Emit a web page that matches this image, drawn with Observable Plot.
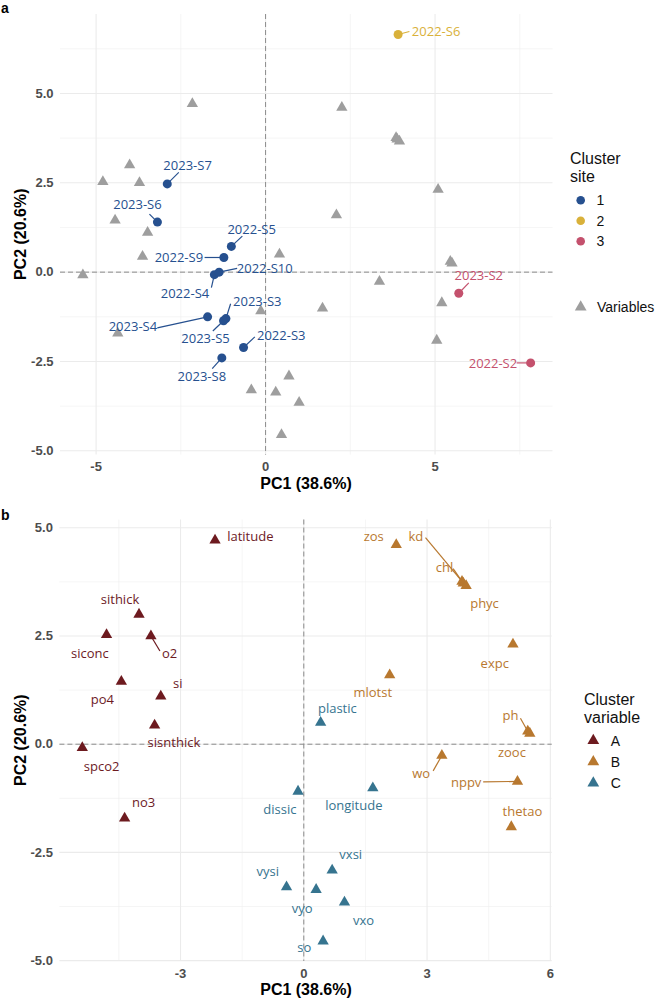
<!DOCTYPE html>
<html>
<head>
<meta charset="utf-8">
<script src="https://cdn.jsdelivr.net/npm/d3@7"></script>
<script src="https://cdn.jsdelivr.net/npm/@observablehq/plot@0.6"></script>
<style>
  body { margin: 0; background: #fff; }
  #fig { position: relative; width: 656px; height: 1000px; font-family: "Liberation Sans", Arial, sans-serif; }
  #fig > svg { position: absolute; left: 0; }
</style>
</head>
<body>
<div id="fig"></div>
<script>
// ---- Site scores on the first two principal components
const siteNames   = ["2022-S2","2022-S3","2022-S4","2022-S5","2022-S6","2022-S9","2022-S10","2023-S2","2023-S3","2023-S4","2023-S5","2023-S6","2023-S7","2023-S8"];
const siteCluster = ["3","1","1","1","2","1","1","3","1","1","1","1","1","1"];
const sitePC1     = [7.82,-0.65,-1.51,-1.01,3.91,-1.23,-1.37,5.70,-1.17,-1.71,-1.24,-3.19,-2.90,-1.29];
const sitePC2     = [-2.54,-2.11,-0.07,0.72,6.65,0.41,0.00,-0.59,-1.30,-1.25,-1.36,1.40,2.47,-2.40];

// ---- Environmental variables (loadings) and their clusters
const varNames   = ["latitude","sithick","siconc","o2","po4","si","sisnthick","spco2","no3",
                    "zos","kd","chl","phyc","expc","mlotst","ph","zooc","wo","nppv","thetao",
                    "plastic","dissic","longitude","vysi","vyo","vxsi","vxo","so"];
const varCluster = ["A","A","A","A","A","A","A","A","A",
                    "B","B","B","B","B","B","B","B","B","B","B",
                    "C","C","C","C","C","C","C","C"];
const varPC1     = [-2.16,-4.01,-4.80,-3.72,-4.44,-3.48,-3.63,-5.39,-4.36,
                    2.25,3.85,3.88,3.95,5.09,2.09,5.45,5.50,3.36,5.20,5.05,
                    0.41,-0.14,1.68,-0.42,0.30,0.69,0.99,0.47];
const varPC2     = [4.71,3.00,2.53,2.50,1.45,1.11,0.44,-0.08,-1.71,
                    4.61,3.76,3.72,3.66,2.31,1.60,0.30,0.25,-0.26,-0.86,-1.91,
                    0.50,-1.09,-1.01,-3.30,-3.36,-2.91,-3.65,-4.55];

// ---- Categories, colours and tick values
const siteClusters = ["1","2","3"];
const siteColors   = ["#26508f","#d9b13a","#c4516d"];
const varClusters  = ["A","B","C"];
const varColors    = ["#6d1a1f","#b8782f","#36748f"];
const axisTitleX = "PC1 (38.6%)";
const axisTitleY = "PC2 (20.6%)";
const ticksXa = [-5, 0, 5],        minorXa = [-2.5, 2.5, 7.5];
const ticksXb = [-3, 0, 3, 6],     minorXb = [-4.5, -1.5, 1.5, 4.5];
const ticksY  = [-5, -2.5, 0, 2.5, 5];
const minorYa = [-3.75, -1.25, 1.25, 3.75, 6.25];
const minorYb = [-3.75, -1.25, 1.25, 3.75];

// ---- Repelled label placement: text-centre offset and segment end, in pixels from the point
const siteLabelLayout = {
  "2022-S2":  [-37.7,   0.7, -14,    0],
  "2022-S3":  [ 37.7, -12,    11.3, -10.7],
  "2022-S4":  [-29.4,  19,    -3,    13],
  "2022-S5":  [ 20.3, -16.6,  11,   -10.3],
  "2022-S6":  [ 38,    -2.3,  11.3,  -3],
  "2022-S9":  [-45,     0.4, -19.3,   0],
  "2022-S10": [ 45.6,  -3.7,  18,    -3.7],
  "2023-S2":  [ 20,   -17,    10,   -10.3],
  "2023-S3":  [ 31.4, -16.5,   4.7, -14.8],
  "2023-S4":  [-74.7,  10.3, -50.3,  11],
  "2023-S5":  [-18,    18.3, -10.7,  10.3],
  "2023-S6":  [-20,   -17,    -8,    -8],
  "2023-S7":  [ 20.3, -17.7,  11.5, -11.5],
  "2023-S8":  [-20,    18.7,  -9.6,  10.7]
};
const varLabelLayout = {
  latitude:  [ 35.3,  -4],
  sithick:   [-19,   -14.7],
  siconc:    [-16.7,  19],
  o2:        [ 18.7,  18.3,   9,    15],
  po4:       [-19,    18.7],
  si:        [ 17,   -12.7],
  sisnthick: [ 19.3,  18],
  spco2:     [ 19.3,  18.9],
  no3:       [ 19,   -15],
  zos:       [-22.5,  -7.5],
  kd:        [-46.2, -44.4, -36.5, -43.8],
  chl:       [-18.8, -15.6, -10.1, -14.6],
  phyc:      [ 18.4,  17.8],
  expc:      [-18.2,  19.3],
  mlotst:    [-16.9,  17.4],
  ph:        [-17.3, -15.3,  -7.3, -13],
  zooc:      [-17.9,  19.5],
  wo:        [-20.7,  18.7,  -8.7,  15.4],
  nppv:      [-51.3,   1.1, -34.3,   0.4],
  thetao:    [ 11.1, -15.2],
  plastic:   [ 16.7, -13.4],
  dissic:    [-18.2,  18.4],
  longitude: [-19,    17.6],
  vysi:      [-18.7, -14.8],
  vyo:       [-13.9,  18.9],
  vxsi:      [ 18.6, -15.3],
  vxo:       [ 19,    18.6],
  so:        [-18.9,   6.8]
};

const W = 656;
const sites = siteNames.map((name, i) => ({name, cluster: siteCluster[i], pc1: sitePC1[i], pc2: sitePC2[i]}));
const vars  = varNames.map((name, i) => ({name, cluster: varCluster[i], pc1: varPC1[i], pc2: varPC2[i]}));

// Convert pixel offsets into data units for a panel's linear scales
function placeLabels(rows, layout, kx, ky) {
  return rows.map(d => {
    const [dx, dy, sx, sy] = layout[d.name];
    return {
      ...d,
      lx: d.pc1 + dx / kx, ly: d.pc2 - dy / ky,
      sx: sx == null ? null : d.pc1 + sx / kx,
      sy: sy == null ? null : d.pc2 - sy / ky
    };
  });
}

function backdrop(xMajor, xMinor, yMajor, yMinor) {
  return [
    Plot.ruleX(xMinor, {stroke: "#efefef", strokeWidth: 0.6}),
    Plot.ruleY(yMinor, {stroke: "#efefef", strokeWidth: 0.6}),
    Plot.ruleX(xMajor, {stroke: "#ebebeb", strokeWidth: 1.1}),
    Plot.ruleY(yMajor, {stroke: "#ebebeb", strokeWidth: 1.1}),
    Plot.ruleX([0], {stroke: "#8c8c8c", strokeWidth: 1, strokeDasharray: "5,3"}),
    Plot.ruleY([0], {stroke: "#8c8c8c", strokeWidth: 1, strokeDasharray: "5,3"})
  ];
}

function axes(xTicks) {
  const common = {tickSize: 0, tickPadding: 7, fontSize: 13, fontWeight: "bold", color: "#4d4d4d", label: null};
  return [
    Plot.axisX({...common, ticks: xTicks, tickFormat: d => String(d)}),
    Plot.axisY({...common, ticks: ticksY, tickFormat: d => d.toFixed(1)})
  ];
}

const labelFont = {fontFamily: "'Open Sans', 'Noto Sans', sans-serif", fontSize: 13, lineAnchor: "middle", textAnchor: "middle"};

// ---------------- Panel a: sites with variables in grey
{
  const m = {top: 14, right: 103.5, bottom: 45.4, left: 60}, H = 500;
  const xd = [-6.05, 8.48], yd = [-5.12, 7.21];
  const kx = (W - m.left - m.right) / (xd[1] - xd[0]);
  const ky = (H - m.top - m.bottom) / (yd[1] - yd[0]);
  const rows = placeLabels(sites, siteLabelLayout, kx, ky);
  const chart = Plot.plot({
    width: W, height: H,
    marginTop: m.top, marginRight: m.right, marginBottom: m.bottom, marginLeft: m.left,
    style: {fontFamily: "'Liberation Sans', Arial, sans-serif", background: "transparent", overflow: "visible"},
    x: {domain: xd}, y: {domain: yd},
    color: {domain: siteClusters, range: siteColors},
    marks: [
      ...backdrop(ticksXa, minorXa, ticksY, minorYa),
      Plot.dot(vars, {x: "pc1", y: "pc2", symbol: "triangle", r: 4.2, fill: "#9e9e9e"}),
      Plot.link(rows.filter(d => d.sx != null), {x1: "pc1", y1: "pc2", x2: "sx", y2: "sy", stroke: "cluster", strokeWidth: 1.2}),
      Plot.dot(rows, {x: "pc1", y: "pc2", r: 4.5, fill: "cluster"}),
      Plot.text(rows, {x: "lx", y: "ly", text: "name", fill: "cluster", ...labelFont}),
      ...axes(ticksXa)
    ]
  });
  chart.style.top = "0px";
  document.getElementById("fig").appendChild(chart);
}

// ---------------- Panel b: variables coloured by cluster
{
  const m = {top: 19.5, right: 104.3, bottom: 39, left: 59.4}, H = 500;
  const xd = [-5.935, 6.045], yd = [-5.02, 5.18];
  const kx = (W - m.left - m.right) / (xd[1] - xd[0]);
  const ky = (H - m.top - m.bottom) / (yd[1] - yd[0]);
  const rows = placeLabels(vars, varLabelLayout, kx, ky);
  const chart = Plot.plot({
    width: W, height: H,
    marginTop: m.top, marginRight: m.right, marginBottom: m.bottom, marginLeft: m.left,
    style: {fontFamily: "'Liberation Sans', Arial, sans-serif", background: "transparent", overflow: "visible"},
    x: {domain: xd}, y: {domain: yd},
    color: {domain: varClusters, range: varColors},
    marks: [
      ...backdrop(ticksXb, minorXb, ticksY, minorYb),
      Plot.link(rows.filter(d => d.sx != null), {x1: "pc1", y1: "pc2", x2: "sx", y2: "sy", stroke: "cluster", strokeWidth: 1.2}),
      Plot.dot(rows, {x: "pc1", y: "pc2", symbol: "triangle", r: 4.2, fill: "cluster"}),
      Plot.text(rows, {x: "lx", y: "ly", text: "name", fill: "cluster", ...labelFont}),
      ...axes(ticksXb)
    ]
  });
  chart.style.top = "500px";
  document.getElementById("fig").appendChild(chart);
}

// ---------------- Panel tags, axis titles and legends
{
  const svg = d3.select("#fig").append("svg")
    .attr("width", W).attr("height", 1000)
    .style("top", "0px").style("pointer-events", "none")
    .attr("font-family", "'Liberation Sans', Arial, sans-serif");

  const tri = size => d3.symbol(d3.symbolTriangle, size)();

  function titles(tag, tagY, xTitleY, yTitleCY) {
    svg.append("text").attr("x", 1).attr("y", tagY).attr("font-size", 14).attr("font-weight", "bold").text(tag);
    svg.append("text").attr("x", 306).attr("y", xTitleY).attr("text-anchor", "middle")
      .attr("font-size", 16).attr("font-weight", "bold").text(axisTitleX);
    svg.append("text").attr("transform", `translate(25.7,${yTitleCY}) rotate(-90)`).attr("text-anchor", "middle")
      .attr("font-size", 16).attr("font-weight", "bold").text(axisTitleY);
  }
  titles("a", 13, 488.6, 234.3);
  titles("b", 519.5, 995, 740.2);

  function legendTitle(x, y, lines) {
    lines.forEach((t, i) => svg.append("text").attr("x", x).attr("y", y + i * 17.7).attr("font-size", 16).attr("fill", "#111").text(t));
  }

  // Cluster site
  legendTitle(570, 164, ["Cluster", "site"]);
  siteClusters.forEach((c, i) => {
    const cy = 200.3 + i * 20.5;
    svg.append("circle").attr("cx", 580.7).attr("cy", cy).attr("r", 4.3).attr("fill", siteColors[i]);
    svg.append("text").attr("x", 596.5).attr("y", cy + 5).attr("font-size", 14).attr("fill", "#111").text(c);
  });
  svg.append("path").attr("d", tri(60)).attr("transform", "translate(580.7,307)").attr("fill", "#9e9e9e");
  svg.append("text").attr("x", 597).attr("y", 311.5).attr("font-size", 14).attr("fill", "#111").text("Variables");

  // Cluster variable
  legendTitle(584, 705, ["Cluster", "variable"]);
  varClusters.forEach((c, i) => {
    const cy = 740.5 + i * 21.3;
    svg.append("path").attr("d", tri(60)).attr("transform", `translate(593.3,${cy})`).attr("fill", varColors[i]);
    svg.append("text").attr("x", 610.7).attr("y", cy + 5).attr("font-size", 14).attr("fill", "#111").text(c);
  });
}
</script>
</body>
</html>
